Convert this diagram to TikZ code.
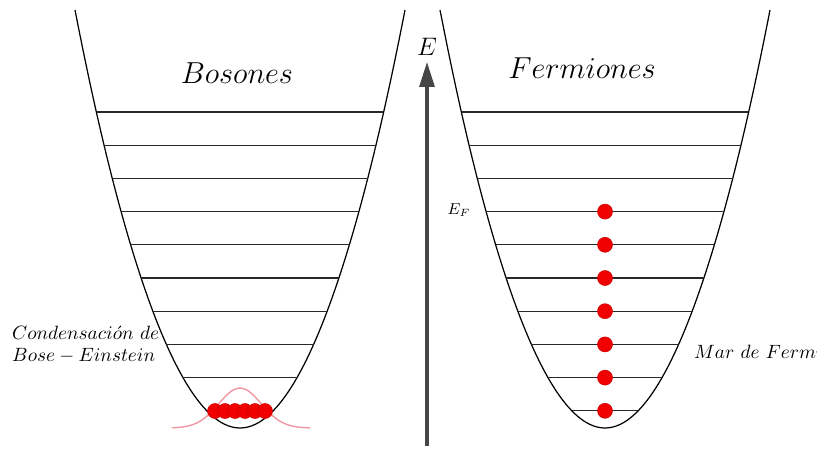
\documentclass[tikz,border=0pt]{standalone}
\usepackage{tikz}
\usepackage{amsmath, amssymb}
\usepackage{xcolor}
\usetikzlibrary{arrows.meta, positioning, calc}
\definecolor{potGray}{RGB}{40,40,40}
\definecolor{axisGray}{RGB}{70,70,70}
\definecolor{dotRed}{RGB}{240,0,0}
\definecolor{waveRose}{RGB}{240,150,160}

\begin{document}
\begin{tikzpicture}[
    x=0.02cm, y=-0.02cm,
    pot/.style={draw=black, line width=0.7pt},
    level/.style={draw=potGray, line width=0.7pt},
    dot/.style={
      circle, fill=dotRed, draw=red!80!black, line width=0.3pt,
      minimum size=0.3cm, inner sep=0pt
    },
    title/.style={font=\fontsize{16}{19}\selectfont},
    lbl/.style={font=\fontsize{11}{12.5}\selectfont, align=left},
    arr/.style={-{Triangle[length=0.5cm, width=0.3cm]}, line width=1.8pt, axisGray}
  ]
    \clip (0,0) rectangle (817,450);

    % potential wells
    \draw[pot] (75,10) parabola bend (240,428) (405,10);
    \draw[pot] (440,10) parabola bend (605,428) (770,10);

    % energy levels
    \foreach \k in {0,...,9} {
      \pgfmathsetmacro\yy{112+33.2*\k}
      \pgfmathsetmacro\hw{165*sqrt((428-\yy)/418)}
      \draw[level] ({240-\hw},\yy) -- ({240+\hw},\yy);
      \draw[level] ({605-\hw},\yy) -- ({605+\hw},\yy);
    }

    % condensate
    \draw[waveRose, line width=0.8pt] plot[domain=172:310, smooth, samples=40]
      (\x, {428-40*exp(-((\x-240)/30)^2)});
    \foreach \i in {0,...,5}
      \node[dot] (bos\i) at ({215+10*\i},411) {};

    % Fermi sea
    \foreach \k in {3,...,9}
      \node[dot] (fer\k) at (605,{112+33.2*\k}) {};

    \node[title] (bosones) at (237,73) {$Bosones$};
    \node[title] (fermiones) at (582,68) {$Fermiones$};

    \coordinate (ebot) at (427,446);
    \coordinate (etop) at (427,62);
    \draw[arr] (ebot) -- (etop);
    \node[font=\fontsize{15}{18}\selectfont, above=0pt of etop] (elbl) {$E$};

    \node[font=\fontsize{9}{11}\selectfont] (ef) at (459,210) {$E_F$};
    \node[lbl, anchor=west] (bec) at (6,345)
      {$Condensaci\acute{o}n\ de$\\$Bose-Einstein$};
    \node[lbl, anchor=west] (mar) at (688,352) {$Mar\ de\ Fermi$};
  \end{tikzpicture}
\end{document}
